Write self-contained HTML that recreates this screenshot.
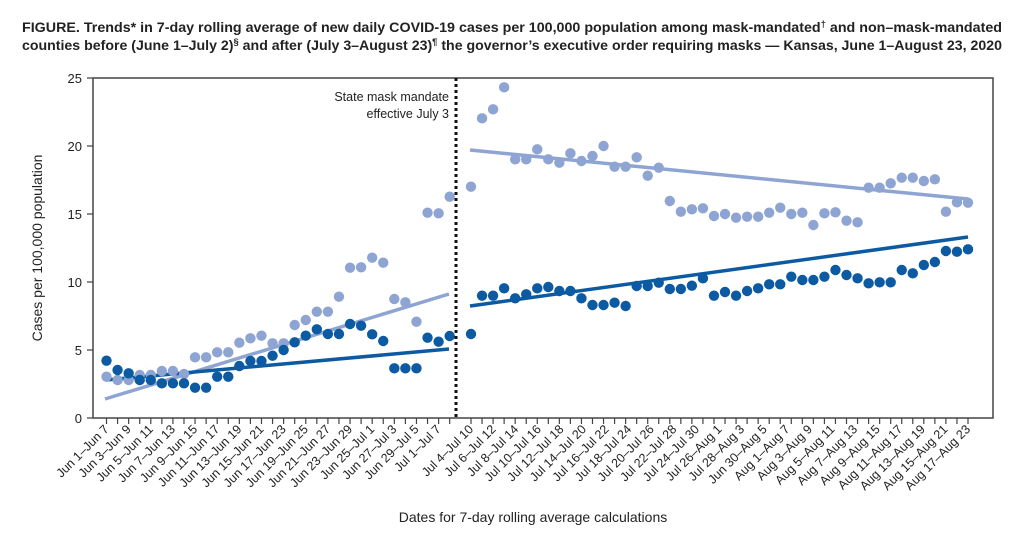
<!DOCTYPE html>
<html><head><meta charset="utf-8"><style>
html,body{margin:0;padding:0;background:#fff;}
svg{display:block;font-family:"Liberation Sans",sans-serif;}
</style></head><body>
<svg id="s" width="1024" height="544" viewBox="0 0 1024 544" xmlns="http://www.w3.org/2000/svg">
<text x="22" y="32" font-size="13.5" font-weight="bold" fill="#222" textLength="980" lengthAdjust="spacingAndGlyphs">FIGURE. Trends* in 7-day rolling average of new daily COVID-19 cases per 100,000 population among mask-mandated<tspan font-size="9" dy="-5">†</tspan><tspan dy="5"> and non–mask-mandated</tspan></text>
<text x="22" y="50" font-size="13.5" font-weight="bold" fill="#222" textLength="980" lengthAdjust="spacingAndGlyphs">counties before (June 1–July 2)<tspan font-size="9" dy="-5">§</tspan><tspan dy="5"> and after (July 3–August 23)</tspan><tspan font-size="9" dy="-5">¶</tspan><tspan dy="5"> the governor’s executive order requiring masks — Kansas, June 1–August 23, 2020</tspan></text>
<rect x="93" y="78" width="900" height="340" fill="none" stroke="#444" stroke-width="1.5"/>
<g id="g"></g>
<line x1="456" y1="78" x2="456" y2="418" stroke="#111" stroke-width="3" stroke-dasharray="3,3"/>
<text x="449" y="101" font-size="12.5" fill="#222" text-anchor="end">State mask mandate</text>
<text x="449" y="118" font-size="12.5" fill="#222" text-anchor="end">effective July 3</text>
<text transform="translate(42,248) rotate(-90)" font-size="14" fill="#222" text-anchor="middle">Cases per 100,000 population</text>
<text x="533" y="522" font-size="14" fill="#222" text-anchor="middle">Dates for 7-day rolling average calculations</text>
</svg>
<script>
var NS="http://www.w3.org/2000/svg",g=document.getElementById("g");
function el(t,a,txt){var e=document.createElementNS(NS,t);for(var k in a)e.setAttribute(k,a[k]);if(txt)e.textContent=txt;g.appendChild(e);return e;}
var L="#8ea4d3",D="#0b5aa2";
for(var v=0;v<=25;v+=5){var y=418-13.6*v;el("line",{x1:87,y1:y,x2:93,y2:y,stroke:"#444","stroke-width":1.2});el("text",{x:82,y:y+5,"font-size":13,"text-anchor":"end",fill:"#222"},String(v));}
var preL=[920,930,930,915,915,903,903,912,862,862,847,847,818,805,797,820,820,765,750,725,725,680,593,592,563,578,687,697,755,428,430,380];
var preD=[872,900,910,930,930,940,940,940,953,953,920,920,888,873,873,857,840,817,797,778,792,792,762,767,793,813,895,895,895,803,815,798];
var postL=[350,145,118,52,268,268,238,268,278,250,273,258,228,290,290,262,317,293,393,425,418,415,438,432,443,440,440,428,413,432,428,465,430,427,452,457,353,353,340,323,323,333,328,425,397,398];
var postD=[792,677,677,655,685,673,655,651,663,663,685,705,705,698,708,648,648,638,657,657,647,625,677,666,677,663,655,643,643,620,630,630,620,600,615,625,640,637,637,600,610,585,576,543,545,538];
function Y(z){return 70+z/3;}
var sp=11.07;
for(var i=0;i<32;i++){var x=106.5+i*sp;el("line",{x1:x,y1:418,x2:x,y2:424,stroke:"#444","stroke-width":1.2});}
var ps=(968-471)/45;
for(var i=0;i<46;i++){var x=471+i*ps;el("line",{x1:x,y1:418,x2:x,y2:424,stroke:"#444","stroke-width":1.2});}
var pre=["Jun 1–Jun 7","Jun 3–Jun 9","Jun 5–Jun 11","Jun 7–Jun 13","Jun 9–Jun 15","Jun 11–Jun 17","Jun 13–Jun 19","Jun 15–Jun 21","Jun 17–Jun 23","Jun 19–Jun 25","Jun 21–Jun 27","Jun 23–Jun 29","Jun 25–Jul 1","Jun 27–Jul 3","Jun 29–Jul 5","Jul 1–Jul 7"];
var post=["Jul 4–Jul 10","Jul 6–Jul 12","Jul 8–Jul 14","Jul 10–Jul 16","Jul 12–Jul 18","Jul 14–Jul 20","Jul 16–Jul 22","Jul 18–Jul 24","Jul 20–Jul 26","Jul 22–Jul 28","Jul 24–Jul 30","Jul 26–Aug 1","Jul 28–Aug 3","Jun 30–Aug 5","Aug 1–Aug 7","Aug 3–Aug 9","Aug 5–Aug 11","Aug 7–Aug 13","Aug 9–Aug 15","Aug 11–Aug 17","Aug 13–Aug 19","Aug 15–Aug 21","Aug 17–Aug 23"];
function lab(x,t){el("text",{transform:"translate("+(x+3)+",430) rotate(-45)","font-size":12.5,"text-anchor":"end",fill:"#222"},t);}
pre.forEach(function(t,k){lab(106.5+2*k*sp,t);});
post.forEach(function(t,k){lab(471+2*k*(968-471)/44,t);});
el("line",{x1:105,y1:399,x2:449,y2:294,stroke:L,"stroke-width":3.5});
el("line",{x1:106,y1:380,x2:449,y2:349,stroke:D,"stroke-width":3.5});
el("line",{x1:470,y1:150,x2:968,y2:199,stroke:L,"stroke-width":3.5});
el("line",{x1:470,y1:306,x2:968,y2:237,stroke:D,"stroke-width":3.5});
for(var i=0;i<32;i++){var x=106.5+i*sp;el("circle",{cx:x,cy:Y(preL[i]),r:5.2,fill:L});}
for(var i=0;i<32;i++){var x=106.5+i*sp;el("circle",{cx:x,cy:Y(preD[i]),r:5.2,fill:D});}
for(var i=0;i<46;i++){var x=471+i*ps;el("circle",{cx:x,cy:Y(postL[i]),r:5.2,fill:L});}
for(var i=0;i<46;i++){var x=471+i*ps;el("circle",{cx:x,cy:Y(postD[i]),r:5.2,fill:D});}
</script>
</body></html>
